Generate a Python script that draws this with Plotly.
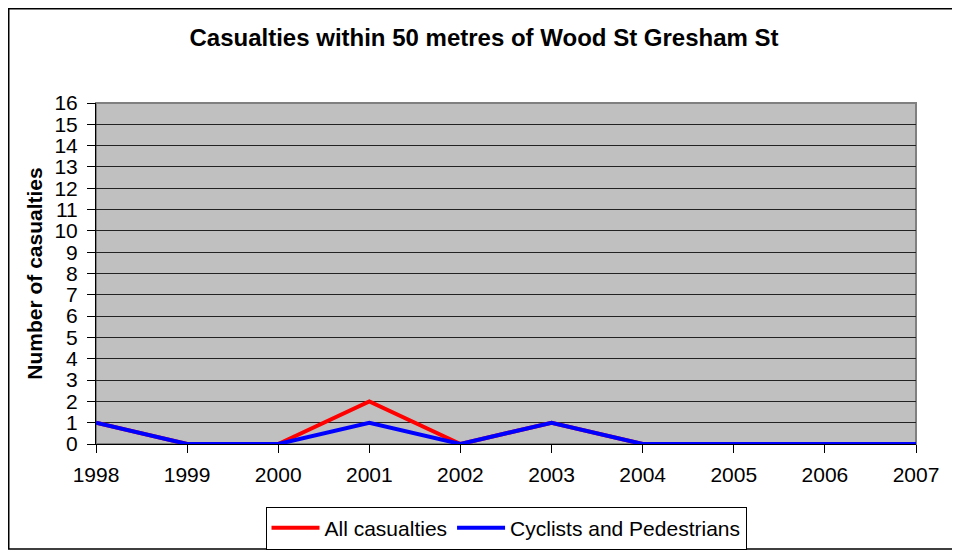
import plotly.graph_objects as go

years = [1998, 1999, 2000, 2001, 2002, 2003, 2004, 2005, 2006, 2007]
all_casualties = [1, 0, 0, 2, 0, 1, 0, 0, 0, 0]
cyclists_pedestrians = [1, 0, 0, 1, 0, 1, 0, 0, 0, 0]

FONT = "Liberation Sans, Arial, sans-serif"

fig = go.Figure()
fig.add_trace(go.Scatter(x=years, y=all_casualties, mode="lines",
                         name="All casualties",
                         line=dict(color="#FF0000", width=4)))
fig.add_trace(go.Scatter(x=years, y=cyclists_pedestrians, mode="lines",
                         name="Cyclists and Pedestrians",
                         line=dict(color="#0000FF", width=4)))

# plot area border (grey) + outer chart frame
fig.add_shape(type="rect", xref="paper", yref="paper", x0=0, x1=1, y0=0, y1=1,
              line=dict(color="#808080", width=2), layer="below")
fig.add_shape(type="rect", xref="paper", yref="paper",
              x0=-0.1064, x1=1.05, y0=-0.308, y1=1.2764,
              line=dict(color="#000000", width=1.5))

# page body has an 8px margin, so the figure is a bit smaller than the window
fig.update_layout(
    width=952, height=544,
    margin=dict(l=88, r=44, t=95, b=108, autoexpand=False),
    paper_bgcolor="white",
    plot_bgcolor="#C0C0C0",
    font=dict(family=FONT, size=21, color="black"),
    title=dict(text="<b>Casualties within 50 metres of Wood St Gresham St</b>",
               x=0.5, xanchor="center", y=0.945, yanchor="middle",
               font=dict(size=24)),
    legend=dict(orientation="h", x=0.5, xanchor="center",
                yref="container", y=0.044, yanchor="middle",
                bordercolor="black", borderwidth=1, bgcolor="white",
                font=dict(size=21), tracegroupgap=0, itemwidth=48),
    showlegend=True,
)
fig.update_xaxes(range=[1998, 2007], dtick=1, tick0=1998, showgrid=False,
                 showline=True, linecolor="black", linewidth=1,
                 ticks="outside", ticklen=8, tickcolor="black",
                 ticklabelstandoff=4, zeroline=False, fixedrange=True,
                 automargin=False)
fig.update_yaxes(range=[0, 16], dtick=1, showgrid=True, gridcolor="#222222",
                 gridwidth=1, showline=True, linecolor="black", linewidth=1,
                 ticks="outside", ticklen=8, tickcolor="black",
                 ticklabelstandoff=5, zeroline=False, fixedrange=True,
                 automargin=False,
                 title=dict(text="<b>Number of casualties</b>",
                            font=dict(size=21), standoff=6))

fig.write_html("out.html")
